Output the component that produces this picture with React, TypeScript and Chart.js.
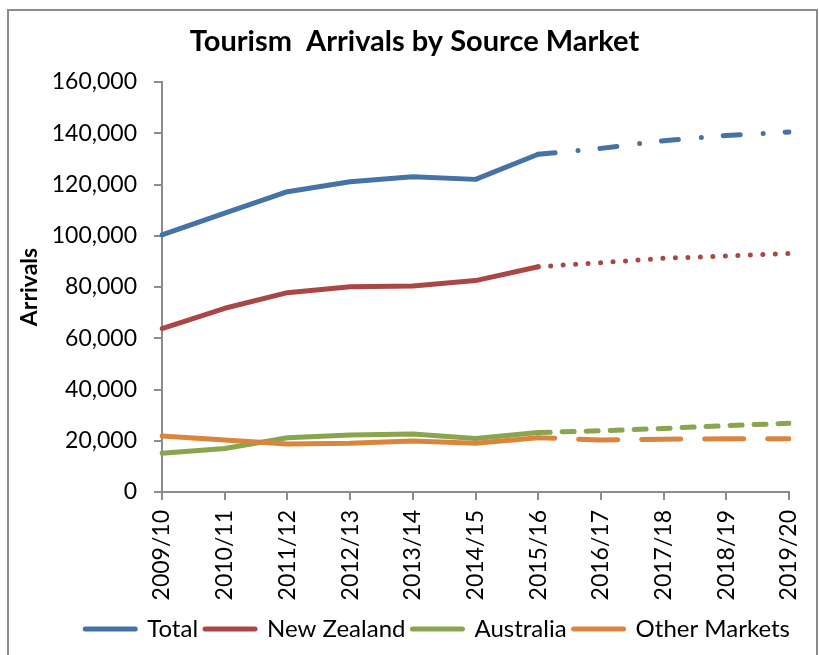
import React, { useEffect, useRef } from 'react';
import { Chart, registerables } from 'chart.js';

Chart.register(...registerables);

const categories = ['2009/10', '2010/11', '2011/12', '2012/13', '2013/14', '2014/15', '2015/16', '2016/17', '2017/18', '2018/19', '2019/20'];

// Actual values 2009/10 - 2015/16
const totalActual = [100300, 108800, 117200, 121100, 123000, 122000, 131800];
const nzActual = [63800, 71700, 77800, 80100, 80400, 82500, 87900];
const auActual = [15100, 17000, 21200, 22200, 22600, 20900, 23200];
const otherActual = [21900, 20300, 18700, 19000, 19900, 19000, 21200];

// Projected values 2015/16 - 2019/20
const totalProjected = [131800, 134100, 137100, 139100, 140500];
const nzProjected = [87900, 89500, 91200, 92100, 93100];
const auProjected = [23200, 23900, 24800, 25900, 26800];
const otherProjected = [21200, 20300, 20600, 20800, 20800];

const seriesNames = ['Total', 'New Zealand', 'Australia', 'Other Markets'];
const seriesColors = ['#4572A7', '#AA4643', '#89A54E', '#DB843D'];

const yMin = 0;
const yMax = 160000;
const yStep = 20000;

const FONT = 'Lato, "Open Sans", "DejaVu Sans", sans-serif';

const padActual = (arr: number[]) => arr.concat(new Array(categories.length - arr.length).fill(null));
const padProjected = (arr: number[]) => new Array(categories.length - arr.length).fill(null).concat(arr);

const legendShift = {
  id: 'legendShift',
  afterLayout(chart: any) {
    if (chart.legend) {
      chart.legend.left += 8;
      chart.legend.right += 8;
    }
  },
};

export default function App() {
  const canvasRef = useRef<HTMLCanvasElement | null>(null);

  useEffect(() => {
    let chart: Chart | null = null;
    let cancelled = false;

    const build = () => {
      if (cancelled || !canvasRef.current) return;
      const actuals = [totalActual, nzActual, auActual, otherActual];
      const projections = [totalProjected, nzProjected, auProjected, otherProjected];
      const dashes: number[][] = [[17, 23, 0, 22], [0, 12.5], [12, 12], [39, 24]];
      const dashOffsets = [0, 0, 0, 22.5];
      const orders = [4, 3, 2, 1];

      const datasets: any[] = [];
      actuals.forEach((arr, i) => {
        datasets.push({
          label: seriesNames[i],
          data: padActual(arr),
          borderColor: seriesColors[i],
          backgroundColor: seriesColors[i],
          borderWidth: 5,
          pointRadius: 0,
          pointHoverRadius: 0,
          borderCapStyle: 'round',
          borderJoinStyle: 'round',
          tension: 0,
          fill: false,
          spanGaps: false,
          order: orders[i],
        });
      });
      projections.forEach((arr, i) => {
        datasets.push({
          label: seriesNames[i] + ' (projected)',
          data: padProjected(arr),
          borderColor: seriesColors[i],
          backgroundColor: seriesColors[i],
          borderWidth: 5,
          borderDash: dashes[i],
          borderDashOffset: dashOffsets[i],
          pointRadius: 0,
          pointHoverRadius: 0,
          borderCapStyle: 'round',
          borderJoinStyle: 'round',
          tension: 0,
          fill: false,
          spanGaps: false,
          order: orders[i],
        });
      });

      chart = new Chart(canvasRef.current, {
        type: 'line',
        data: { labels: categories, datasets },
        plugins: [legendShift],
        options: {
          responsive: false,
          animation: false,
          events: [],
          layout: { padding: { left: 40, right: 30, top: 0, bottom: 4 } },
          plugins: {
            tooltip: { enabled: false },
            title: {
              display: true,
              text: 'Tourism  Arrivals by Source Market',
              color: '#000',
              font: { family: FONT, size: 29, weight: 'bold' },
              padding: { top: 24.4, bottom: 22.8 },
            },
            legend: {
              display: true,
              position: 'bottom',
              align: 'end',
              labels: {
                color: '#000',
                font: { family: FONT, size: 24 },
                usePointStyle: true,
                pointStyle: 'line',
                pointStyleWidth: 50,
                padding: 7,
                generateLabels: () => seriesNames.map((name, i) => ({
                  text: name,
                  fillStyle: seriesColors[i],
                  strokeStyle: seriesColors[i],
                  fontColor: '#000',
                  lineWidth: 5,
                  lineCap: 'round',
                  lineJoin: 'round',
                  lineDash: [],
                  lineDashOffset: 0,
                  pointStyle: 'line',
                  rotation: 0,
                  hidden: false,
                  datasetIndex: i,
                })),
              },
            },
          },
          scales: {
            x: {
              type: 'category',
              offset: false,
              afterFit: (scale: any) => {
                scale.height = 118;
                scale.paddingLeft = 0;
                scale.paddingRight = 0;
              },
              grid: {
                display: true,
                drawOnChartArea: false,
                drawTicks: true,
                tickLength: 8,
                color: '#8c8c8c',
                lineWidth: 2,
                offset: false,
              },
              border: { display: true, color: '#8c8c8c', width: 2 },
              ticks: {
                autoSkip: false,
                maxRotation: 90,
                minRotation: 90,
                padding: 10,
                color: '#000',
                font: { family: FONT, size: 23 },
              },
            },
            y: {
              min: yMin,
              max: yMax,
              afterFit: (scale: any) => { scale.width = 122; },
              title: {
                display: true,
                text: 'Arrivals',
                color: '#000',
                font: { family: FONT, size: 23, weight: 'bold' },
                padding: { top: -23.8, bottom: 0 },
              },
              grid: {
                display: true,
                drawOnChartArea: false,
                drawTicks: true,
                tickLength: 8,
                color: '#8c8c8c',
                lineWidth: 2,
              },
              border: { display: true, color: '#8c8c8c', width: 2 },
              ticks: {
                stepSize: yStep,
                padding: 17,
                color: '#000',
                font: { family: FONT, size: 23 },
                callback: (v: any) => Number(v).toLocaleString('en-US'),
              },
            },
          },
        },
      });
    };

    const fontsApi: any = (document as any).fonts;
    if (fontsApi && fontsApi.load) {
      Promise.all([
        fontsApi.load('bold 29px Lato'),
        fontsApi.load('24px Lato'),
      ]).then(build, build);
    } else {
      build();
    }

    return () => {
      cancelled = true;
      if (chart) chart.destroy();
    };
  }, []);

  return (
    <div style={{ position: 'absolute', left: 0, top: 0, width: 819, height: 655, overflow: 'hidden', background: '#fff' }}>
      <div style={{ position: 'absolute', left: 7, top: 9, width: 811, height: 700, border: '2px solid #8c8c8c', boxSizing: 'border-box' }} />
      <canvas ref={canvasRef} width={819} height={655} style={{ position: 'absolute', left: 0, top: 0, display: 'block' }} />
    </div>
  );
}
